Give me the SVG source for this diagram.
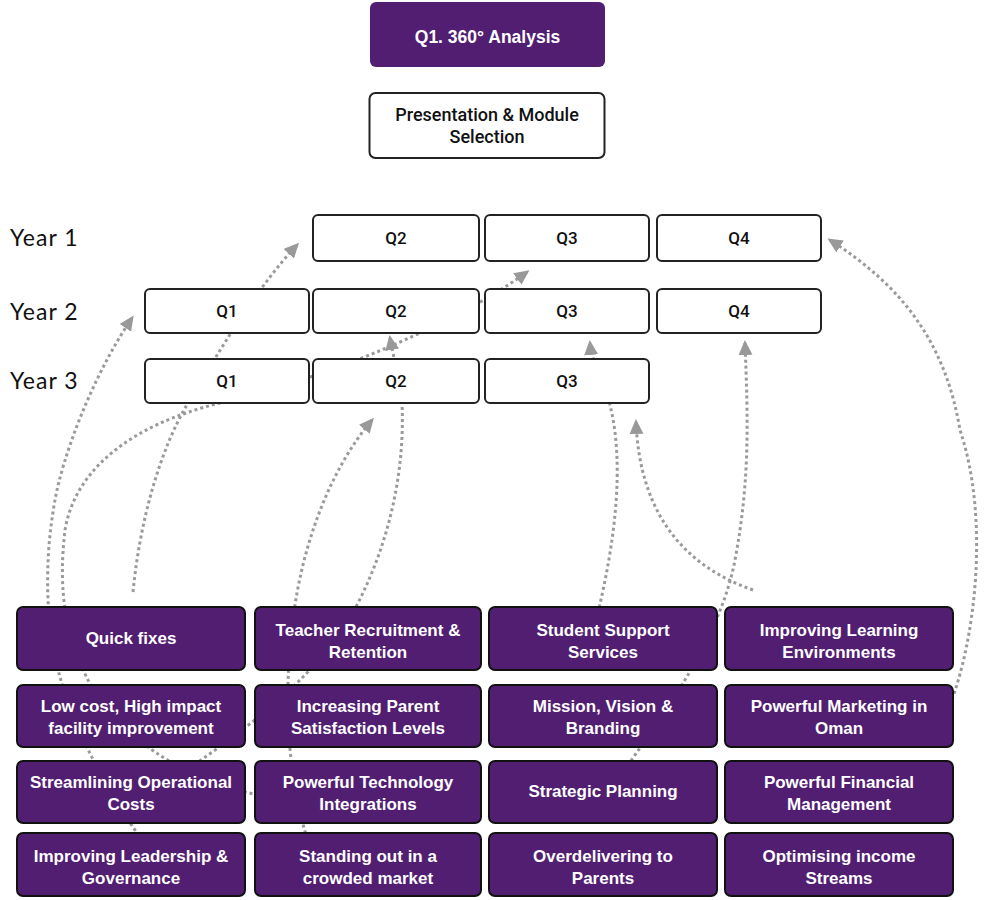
<svg xmlns="http://www.w3.org/2000/svg" width="984" height="900" viewBox="0 0 984 900">
<defs>
<marker id="ah" markerUnits="userSpaceOnUse" markerWidth="16" markerHeight="16" refX="12" refY="7" orient="auto">
<path d="M0,0 L15,7 L0,14 z" fill="#999"/>
</marker>
<style>
.conn{fill:none;stroke:#9a9a9a;stroke-width:3;stroke-dasharray:3 3;marker-end:url(#ah)}
.pbox{fill:#511e72;stroke:#111;stroke-width:2}
.ptxt{fill:#fff;font-family:"Liberation Sans",Arial,sans-serif;font-weight:bold;font-size:17px;text-anchor:middle}
.qbox{fill:#fff;stroke:#222;stroke-width:2}
.qtxt{fill:#111;font-family:Roboto,"Liberation Sans",sans-serif;font-weight:500;font-size:17px;text-anchor:middle}
.ytxt{fill:#111;font-family:Lato,"Liberation Sans",sans-serif;font-size:23px;letter-spacing:1px}
</style>
</defs>
<rect width="984" height="900" fill="#fff"/>

<g id="connectors">
<path class="conn" d="M150,850 C110,800 75,730 60,677 C45,625 44,560 55,500 C62,460 90,380 132,318"/>
<path class="conn" d="M300,800 C200,795 120,740 88,680 C65,635 58,590 65,530 C75,470 130,425 220,403 C300,385 440,335 527,272"/>
<path class="conn" d="M133,592 C140,520 160,450 188,403 C220,350 255,290 297,245"/>
<path class="conn" d="M165,785 C230,740 320,680 358,603 C390,540 405,470 402,403 C400,380 394,360 390,338"/>
<path class="conn" d="M312,850 C290,800 280,700 295,605 C305,540 330,470 372,420"/>
<path class="conn" d="M595,625 C615,545 625,465 610,405 C605,380 592,365 590,343"/>
<path class="conn" d="M753,590 C690,568 640,520 636,422"/>
<path class="conn" d="M610,790 C660,720 720,640 735,560 C750,480 748,420 745,343"/>
<path class="conn" d="M950,705 C975,640 990,520 960,430 C945,340 900,285 830,240"/>
</g>

<g id="n-analysis">
<rect x="370" y="2" width="235" height="65" rx="6" fill="#511e72"/>
<text class="ptxt" x="487.5" y="43" style="font-size:17.5px">Q1. 360° Analysis</text>
</g>
<g id="n-presentation">
<rect x="369.5" y="93" width="235" height="65" rx="6" class="qbox"/>
<text class="qtxt" x="487" y="121" style="font-size:18px">Presentation &amp; Module</text>
<text class="qtxt" x="487" y="143" style="font-size:18px">Selection</text>
</g>

<g id="year-labels">
<text class="ytxt" x="10" y="246">Year 1</text>
<text class="ytxt" x="10" y="320">Year 2</text>
<text class="ytxt" x="10" y="389">Year 3</text>
</g>

<g id="y1q2"><rect class="qbox" x="313" y="215" width="166" height="46" rx="5"/><text class="qtxt" x="396" y="244">Q2</text></g>
<g id="y1q3"><rect class="qbox" x="485" y="215" width="164" height="46" rx="5"/><text class="qtxt" x="567" y="244">Q3</text></g>
<g id="y1q4"><rect class="qbox" x="657" y="215" width="164" height="46" rx="5"/><text class="qtxt" x="739" y="244">Q4</text></g>

<g id="y2q1"><rect class="qbox" x="145" y="289" width="164" height="44" rx="5"/><text class="qtxt" x="227" y="317">Q1</text></g>
<g id="y2q2"><rect class="qbox" x="313" y="289" width="166" height="44" rx="5"/><text class="qtxt" x="396" y="317">Q2</text></g>
<g id="y2q3"><rect class="qbox" x="485" y="289" width="164" height="44" rx="5"/><text class="qtxt" x="567" y="317">Q3</text></g>
<g id="y2q4"><rect class="qbox" x="657" y="289" width="164" height="44" rx="5"/><text class="qtxt" x="739" y="317">Q4</text></g>

<g id="y3q1"><rect class="qbox" x="145" y="359" width="164" height="44" rx="5"/><text class="qtxt" x="227" y="387">Q1</text></g>
<g id="y3q2"><rect class="qbox" x="313" y="359" width="166" height="44" rx="5"/><text class="qtxt" x="396" y="387">Q2</text></g>
<g id="y3q3"><rect class="qbox" x="485" y="359" width="164" height="44" rx="5"/><text class="qtxt" x="567" y="387">Q3</text></g>

<g id="m-quick"><rect class="pbox" x="17" y="607" width="228" height="63" rx="6"/><text class="ptxt" x="131" y="644">Quick fixes</text></g>
<g id="m-teacher"><rect class="pbox" x="255" y="607" width="226" height="63" rx="6"/><text class="ptxt" x="368" y="636">Teacher Recruitment &amp;</text><text class="ptxt" x="368" y="658">Retention</text></g>
<g id="m-student"><rect class="pbox" x="489" y="607" width="228" height="63" rx="6"/><text class="ptxt" x="603" y="636">Student Support</text><text class="ptxt" x="603" y="658">Services</text></g>
<g id="m-learning"><rect class="pbox" x="725" y="607" width="228" height="63" rx="6"/><text class="ptxt" x="839" y="636">Improving Learning</text><text class="ptxt" x="839" y="658">Environments</text></g>

<g id="m-lowcost"><rect class="pbox" x="17" y="685" width="228" height="62" rx="6"/><text class="ptxt" x="131" y="712">Low cost, High impact</text><text class="ptxt" x="131" y="734">facility improvement</text></g>
<g id="m-parent"><rect class="pbox" x="255" y="685" width="226" height="62" rx="6"/><text class="ptxt" x="368" y="712">Increasing Parent</text><text class="ptxt" x="368" y="734">Satisfaction Levels</text></g>
<g id="m-mission"><rect class="pbox" x="489" y="685" width="228" height="62" rx="6"/><text class="ptxt" x="603" y="712">Mission, Vision &amp;</text><text class="ptxt" x="603" y="734">Branding</text></g>
<g id="m-marketing"><rect class="pbox" x="725" y="685" width="228" height="62" rx="6"/><text class="ptxt" x="839" y="712">Powerful Marketing in</text><text class="ptxt" x="839" y="734">Oman</text></g>

<g id="m-streamlining"><rect class="pbox" x="17" y="761" width="228" height="62" rx="6"/><text class="ptxt" x="131" y="788">Streamlining Operational</text><text class="ptxt" x="131" y="810">Costs</text></g>
<g id="m-technology"><rect class="pbox" x="255" y="761" width="226" height="62" rx="6"/><text class="ptxt" x="368" y="788">Powerful Technology</text><text class="ptxt" x="368" y="810">Integrations</text></g>
<g id="m-strategic"><rect class="pbox" x="489" y="761" width="228" height="62" rx="6"/><text class="ptxt" x="603" y="797">Strategic Planning</text></g>
<g id="m-financial"><rect class="pbox" x="725" y="761" width="228" height="62" rx="6"/><text class="ptxt" x="839" y="788">Powerful Financial</text><text class="ptxt" x="839" y="810">Management</text></g>

<g id="m-leadership"><rect class="pbox" x="17" y="833" width="228" height="63" rx="6"/><text class="ptxt" x="131" y="862">Improving Leadership &amp;</text><text class="ptxt" x="131" y="884">Governance</text></g>
<g id="m-standing"><rect class="pbox" x="255" y="833" width="226" height="63" rx="6"/><text class="ptxt" x="368" y="862">Standing out in a</text><text class="ptxt" x="368" y="884">crowded market</text></g>
<g id="m-overdelivering"><rect class="pbox" x="489" y="833" width="228" height="63" rx="6"/><text class="ptxt" x="603" y="862">Overdelivering to</text><text class="ptxt" x="603" y="884">Parents</text></g>
<g id="m-income"><rect class="pbox" x="725" y="833" width="228" height="63" rx="6"/><text class="ptxt" x="839" y="862">Optimising income</text><text class="ptxt" x="839" y="884">Streams</text></g>
</svg>
